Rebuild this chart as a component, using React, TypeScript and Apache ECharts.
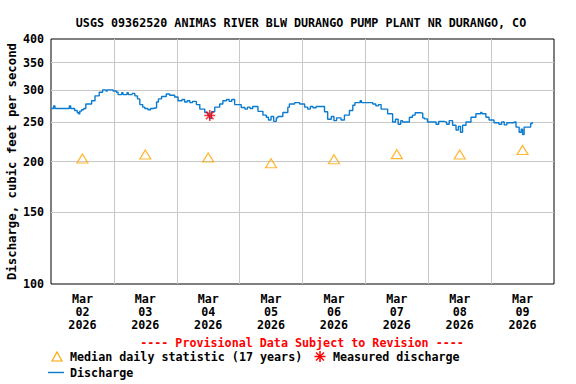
import React, { useEffect, useRef } from 'react';
import * as echarts from 'echarts';

const TITLE = 'USGS 09362520 ANIMAS RIVER BLW DURANGO PUMP PLANT NR DURANGO, CO';
const PROVISIONAL = '---- Provisional Data Subject to Revision ----';
const dayLabels = ['Mar 02 2026', 'Mar 03 2026', 'Mar 04 2026', 'Mar 05 2026', 'Mar 06 2026', 'Mar 07 2026', 'Mar 08 2026', 'Mar 09 2026'];
const yTicks = [100, 150, 200, 250, 300, 350, 400];

// Median daily statistic (17 years), one per day at noon
const medianHours = [12, 36, 60, 84, 108, 132, 156, 180];
const medianValues = [203.5, 208, 204.5, 198, 202.5, 208.5, 208, 213.5];

// Measured discharge
const measuredHours = [60.6];
const measuredValues = [259.5];

// Discharge (hours since Mar 02 00:00, cfs)
const dischargeHours = [
  0, 1, 1.5, 3, 6, 7, 7.5, 9, 10, 10.5, 11, 11.7, 12.5, 13.3, 15.5, 16.8, 18.4, 19.7, 21, 21.5,
  23.7, 25, 25.6, 27, 27.5, 29, 29.5, 31, 32, 33, 33.9, 35, 35.8, 37, 38, 39, 40.3, 41, 42.2, 44,
  45.3, 47.2, 48.5, 50, 51, 52, 53, 54, 55.5, 56.8, 58.7, 59.9, 60.5, 61.2, 62.5, 64.4, 65.6, 67, 68, 69,
  70.1, 72.6, 74, 75, 76, 77, 79, 80.9, 82.2, 83, 84, 85, 86, 86.6, 88.5, 90.4, 91, 93, 94.9, 96.8,
  98, 99, 100, 101.2, 104.4, 105.6, 107, 108, 109, 110.7, 112, 113.9, 115.2, 116, 118, 118.5, 120.3, 122.8, 124, 125,
  126, 128.5, 130.4, 131.5, 132.5, 133.5, 134.2, 136.8, 138, 139, 141, 141.9, 142.5, 143.7, 146, 147, 148, 150, 151, 152,
  153.3, 154.6, 155.5, 156.3, 157.1, 158.4, 160.3, 162.2, 164, 164.5, 166, 167.2, 169.1, 171, 172, 173, 174, 175.5, 176.8, 177.5,
  178.7, 179.5, 180, 180.6, 183.1, 183.7,
];
const dischargeValues = [
  270, 274, 270, 270, 270, 274, 270, 267, 264, 262, 266, 268, 270, 277, 282, 290, 296, 300, 298, 300,
  298, 296, 292, 295, 292, 295, 292, 294, 290, 285, 276, 272, 270, 268, 270, 271, 280, 285, 289, 293,
  291, 288, 282, 284, 280, 282, 279, 281, 276, 269, 264, 259.5, 255, 265, 272, 277, 282, 284, 281, 284,
  276, 271.5, 269, 272, 270, 273, 265.6, 260, 257, 253, 258, 251, 256, 258, 264, 272, 277, 279, 277, 272,
  269, 273, 271, 273, 265, 254, 258, 252, 256, 253, 260, 267, 275, 279, 282, 279, 279, 277, 274, 276,
  269, 262, 250, 254, 247, 252, 250, 257, 260, 263.5, 263, 256, 254.5, 250, 250, 247, 251, 250, 247, 252,
  245.6, 239, 244, 236, 245.6, 250, 257, 262, 264, 262, 257, 253, 249, 247, 250, 246, 249, 249, 250, 243,
  236, 240, 233, 243, 248, 250,
];

const FONT = 'DejaVu Sans Mono';
const FS = 11.7;
const BLUE = '#0b7bd0';
const ORANGE = '#FFA500';
const RED = '#FF0000';
const GRID_GRAY = '#c8c8c8';

export default function App() {
  const ref = useRef<HTMLDivElement>(null);
  useEffect(() => {
    const chart = echarts.init(ref.current!, null, { renderer: 'svg' });
    const option: any = {
      animation: false,
      backgroundColor: '#fff',
      title: {
        text: TITLE,
        left: 296,
        top: 12,
        textAlign: 'center',
        textStyle: { fontFamily: FONT, fontWeight: 'bold', fontSize: FS, color: '#000' },
      },
      grid: {
        left: 51, right: 22, top: 39, bottom: 100, show: true, borderColor: '#000', borderWidth: 1, backgroundColor: 'transparent',
        containLabel: false, outerBoundsMode: 'none',
      },
      xAxis: [
        {
          type: 'value', min: 0, max: 192, interval: 24,
          axisLine: { show: false }, axisTick: { show: false }, axisLabel: { show: false },
          splitLine: { show: true, showMinLine: false, showMaxLine: false, lineStyle: { color: GRID_GRAY, width: 1 } },
        },
        {
          type: 'category', data: dayLabels.map((d) => d.split(' ').join('\n')), boundaryGap: true, position: 'bottom',
          axisLine: { show: false }, axisTick: { show: false }, splitLine: { show: false },
          axisLabel: { fontFamily: FONT, fontWeight: 'bold', fontSize: FS, lineHeight: 13, color: '#000', margin: 8 },
        },
      ],
      yAxis: {
        type: 'log', logBase: 10, min: 100, max: 400,
        name: 'Discharge, cubic feet per second', nameLocation: 'middle', nameGap: 33, nameMoveOverlap: false,
        nameTextStyle: { fontFamily: FONT, fontWeight: 'bold', fontSize: 12.3, color: '#000' },
        axisLine: { show: false },
        axisTick: { show: false, customValues: yTicks },
        axisLabel: { customValues: yTicks, fontFamily: FONT, fontWeight: 'bold', fontSize: FS, color: '#000', margin: 7 },
        splitLine: { show: true, showMinLine: false, showMaxLine: false, lineStyle: { color: GRID_GRAY, width: 1 } },
      },
      series: [
        {
          type: 'line', name: 'Discharge', step: 'end', showSymbol: false,
          data: dischargeHours.map((h, i) => [h, dischargeValues[i]]),
          lineStyle: { color: BLUE, width: 1.4 }, itemStyle: { color: BLUE },
          z: 3,
        },
        {
          type: 'scatter', name: 'Median daily statistic (17 years)', symbol: 'triangle', symbolSize: [11, 9],
          data: medianHours.map((h, i) => [h, medianValues[i]]),
          itemStyle: { color: 'rgba(255,255,255,0)', borderColor: ORANGE, borderWidth: 1.2 },
          z: 4,
        },
        {
          type: 'scatter', name: 'Measured discharge',
          symbol: 'path://M5,0L5,10M0,5L10,5M1.5,1.5L8.5,8.5M1.5,8.5L8.5,1.5', symbolSize: 11,
          data: measuredHours.map((h, i) => [h, measuredValues[i]]),
          itemStyle: { color: 'none', borderColor: RED, borderWidth: 1.5 },
          z: 5,
        },
      ],
      graphic: [
        { type: 'text', x: 302, y: 343, style: { text: PROVISIONAL, align: 'center', verticalAlign: 'middle', fontFamily: FONT, fontWeight: 'bold', fontSize: FS, fill: RED } },
        { type: 'polygon', shape: { points: [[52, 361], [57, 352], [62, 361]] }, style: { fill: 'none', stroke: ORANGE, lineWidth: 1.2 } },
        { type: 'text', x: 70, y: 357, style: { text: 'Median daily statistic (17 years)', verticalAlign: 'middle', fontFamily: FONT, fontWeight: 'bold', fontSize: FS, fill: '#000' } },
        { type: 'line', shape: { x1: 320, y1: 351, x2: 320, y2: 362 }, style: { stroke: RED, lineWidth: 1.5 } },
        { type: 'line', shape: { x1: 314.5, y1: 356.5, x2: 325.5, y2: 356.5 }, style: { stroke: RED, lineWidth: 1.5 } },
        { type: 'line', shape: { x1: 316, y1: 352.5, x2: 324, y2: 360.5 }, style: { stroke: RED, lineWidth: 1.5 } },
        { type: 'line', shape: { x1: 316, y1: 360.5, x2: 324, y2: 352.5 }, style: { stroke: RED, lineWidth: 1.5 } },
        { type: 'text', x: 333, y: 357, style: { text: 'Measured discharge', verticalAlign: 'middle', fontFamily: FONT, fontWeight: 'bold', fontSize: FS, fill: '#000' } },
        { type: 'line', shape: { x1: 48, y1: 372.5, x2: 64, y2: 372.5 }, style: { stroke: BLUE, lineWidth: 1.4 } },
        { type: 'text', x: 70, y: 373, style: { text: 'Discharge', verticalAlign: 'middle', fontFamily: FONT, fontWeight: 'bold', fontSize: FS, fill: '#000' } },
      ],
    };
    chart.setOption(option);
    return () => chart.dispose();
  }, []);
  return <div ref={ref} style={{ position: 'absolute', left: 0, top: 0, width: 576, height: 384 }} />;
}
